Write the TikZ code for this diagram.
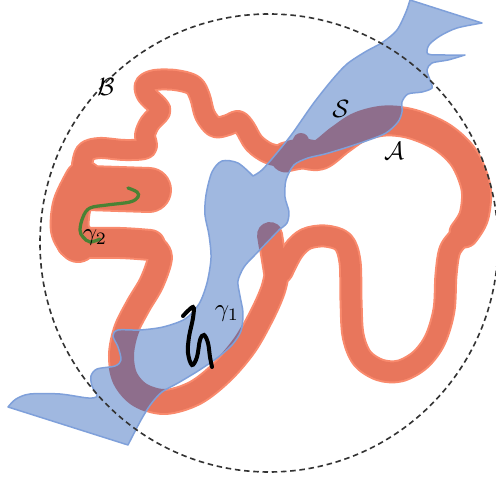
\documentclass[tikz,border=0pt]{standalone}
\usepackage{amsmath}
\definecolor{redmain}{HTML}{E8765C}
\definecolor{redlight}{HTML}{F98A6D}
\definecolor{bluefill}{HTML}{A0B8E0}
\definecolor{blueedge}{HTML}{7FA0DA}
\definecolor{purp}{HTML}{8E6E8C}
\definecolor{gamgreen}{HTML}{4A8234}
\definecolor{circgray}{HTML}{333333}

\def\Spath{(410,0) -- (482,23)
 -- plot[smooth,tension=.5] coordinates {(482,23) (457,28) (440,36) (429,45) (428,54) (445,55) (465,55)}
 -- plot[smooth,tension=.5] coordinates {(465,55) (448,60) (432,63) (427,70) (430,80) (432,88) (422,92) (408,94) (402,102) (402,112) (398,122) (386,133) (366,141) (345,148) (325,154) (308,158) (294,165) (286,180) (285,197) (289,212) (287,223) (280,229)}
 -- (253,257)
 -- plot[smooth,tension=.5] coordinates {(253,257) (244,267) (238,281) (240,296) (243,313) (241,331) (232,345) (217,358) (198,371) (178,383) (162,392) (151,404) (141,420) (128,445)}
 -- (8,407)
 -- plot[smooth,tension=.5] coordinates {(8,407) (16,399) (30,394) (60,394) (88,398) (97,396) (92,386) (91,376) (97,369) (115,366) (121,360) (118,347) (113,336) (118,330) (140,330) (163,327) (185,319) (199,304) (207,283) (211,258) (209,235) (205,215) (206,195) (212,172) (222,161) (238,163) (253,176)}
 -- plot[smooth,tension=.5] coordinates {(253,176) (262,170) (276,154) (292,134) (313,104) (332,80) (347,64) (365,52) (383,42) (397,30) (406,12) (410,0)}
 -- cycle}

\newcommand\ribbonpaths[2]{%
 \begin{scope}[draw=#1, line cap=round, line join=round]
 \draw[line width=19*0.4pt+#2] plot[smooth,tension=.55] coordinates {(282,272) (293,251) (306,239) (325,236) (343,242) (350,262) (351,300) (353,335) (362,358) (380,370) (400,371) (420,360) (435,340) (444,310) (446,275) (450,250) (461,236)};
 \draw[line width=27*0.4pt+#2] plot[smooth,tension=.55] coordinates {(464,233) (474,216) (476,188) (464,158) (442,137) (412,124) (385,121) (360,127) (340,140) (320,155) (302,154) (286,157)};
 \draw[line width=12*0.4pt+#2] (296,153) -- (301,141);
 \draw[line width=18*0.4pt+#2] plot[smooth,tension=.55] coordinates {(286,157) (268,153) (254,143) (245,128) (238,121) (228,125) (215,127) (205,115) (200,97) (193,85) (175,80) (155,80) (145,85) (147,95) (158,106) (160,112) (150,123) (145,135) (146,148) (125,150) (100,148) (86,152) (82,165)};
 \draw[line width=42*0.4pt+#2] (88,188) -- (149,190);
 \draw[line width=36*0.4pt+#2] plot[smooth,tension=.55] coordinates {(84,180) (72,205) (70,230) (78,243)};
 \draw[line width=28*0.4pt+#2] plot[smooth,tension=.55] coordinates {(72,243) (120,243) (150,245)};
 \draw[line width=22*0.4pt+#2] plot[smooth,tension=.55] coordinates {(150,245) (160,256) (152,282) (138,306) (126,330) (121,355) (125,378) (140,395) (165,402) (195,393) (222,372) (245,345) (262,315) (273,290) (278,268)};
 \draw[line width=22*0.4pt+#2] (276,272) -- (270,235);
 \end{scope}}

\begin{document}
\begin{tikzpicture}[x=0.4pt,y=-0.4pt]
\useasboundingbox (0,0) rectangle (496,480);
% ribbon A
\ribbonpaths{redlight}{1.6pt}
\ribbonpaths{redmain}{0pt}
% surface S
\fill[bluefill] \Spath;
\begin{scope}
 \clip \Spath;
 \ribbonpaths{purp}{1.6pt}
\end{scope}
\draw[blueedge, line width=0.6pt, line join=round] \Spath;
% curves
\draw[gamgreen, line width=1.3pt, line cap=round] plot[smooth,tension=.6] coordinates {(128,188) (137,192) (138,197) (130,202) (107,205) (90,208) (83,217) (80,230) (83,237) (90,242) (100,239)};
\draw[black, line width=1.6pt, line cap=round] plot[smooth,tension=.6] coordinates {(183,316) (193,307) (193,318) (189,337) (188,353) (192,365) (197,357) (200,340) (204,335) (208,343) (210,357) (212,367)};
% ball B
\draw[circgray, line width=0.65pt, dash pattern=on 2.2pt off 1.5pt] (269,243) circle[radius=229];
% labels
\node (labelB) at (106,87) {$\mathcal{B}$};
\node (labelS) at (341,109) {$\mathcal{S}$};
\node (labelA) at (394,151) {$\mathcal{A}$};
\node (labelg1) at (227,314) {$\gamma_1$};
\node (labelg2) at (95,238) {$\gamma_2$};
\end{tikzpicture}
\end{document}
